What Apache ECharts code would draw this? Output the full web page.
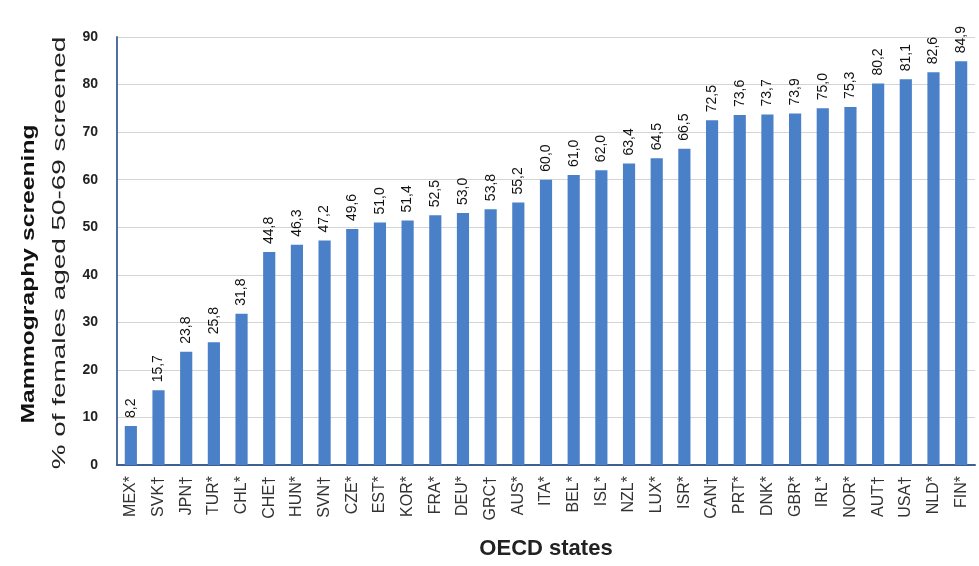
<!DOCTYPE html>
<html>
<head>
<meta charset="utf-8">
<script src="https://cdn.jsdelivr.net/npm/echarts@6/dist/echarts.min.js"></script>
<style>
  html, body { margin: 0; padding: 0; background: #fff; }
  #chart { width: 979px; height: 566px; }
</style>
</head>
<body>
<div id="chart"></div>
<script>
// countries (ordered by screening rate)
var countries = ['MEX*', 'SVK†', 'JPN†', 'TUR*', 'CHL*', 'CHE†', 'HUN*', 'SVN†', 'CZE*', 'EST*',
  'KOR*', 'FRA*', 'DEU*', 'GRC†', 'AUS*', 'ITA*', 'BEL*', 'ISL*', 'NZL*', 'LUX*',
  'ISR*', 'CAN†', 'PRT*', 'DNK*', 'GBR*', 'IRL*', 'NOR*', 'AUT†', 'USA†', 'NLD*', 'FIN*'];
// % of females aged 50-69 screened
var screened = [8.2, 15.7, 23.8, 25.8, 31.8, 44.8, 46.3, 47.2, 49.6, 51.0,
  51.4, 52.5, 53.0, 53.8, 55.2, 60.0, 61.0, 62.0, 63.4, 64.5,
  66.5, 72.5, 73.6, 73.7, 73.9, 75.0, 75.3, 80.2, 81.1, 82.6, 84.9];
var yTicks = [0, 10, 20, 30, 40, 50, 60, 70, 80, 90];
var yTitle = ['Mammography screening', '% of females aged 50-69 screened'];

var chart = echarts.init(document.getElementById('chart'));

var option = {
  animation: false,
  grid: { left: 117, right: 4, top: 37, bottom: 101 },
  // y title drawn as rotated text, stretched along its line like the original
  graphic: [
    {
      type: 'text', x: 29, y: 274, rotation: Math.PI / 2, scaleX: 1.3,
      style: { text: yTitle[0], fontFamily: 'Liberation Sans', fontWeight: 'bold', fontSize: 19,
        fill: '#111', align: 'center', verticalAlign: 'middle' }
    },
    {
      type: 'text', x: 60, y: 253, rotation: Math.PI / 2, scaleX: 1.55,
      style: { text: yTitle[1], fontFamily: 'Liberation Sans', fontSize: 18,
        fill: '#222', align: 'center', verticalAlign: 'middle' }
    }
  ],
  xAxis: {
    type: 'category',
    data: countries,
    name: 'OECD states',
    nameLocation: 'middle',
    nameGap: 73,
    nameTextStyle: { fontFamily: 'Liberation Sans', fontWeight: 'bold', fontSize: 22, color: '#222',
      verticalAlign: 'top' },
    axisLine: { lineStyle: { color: '#3f5f90', width: 2 } },
    axisTick: { show: false },
    axisLabel: {
      rotate: 90,
      interval: 0,
      margin: 11,
      fontFamily: 'Liberation Sans',
      fontSize: 16,
      color: '#333'
    }
  },
  yAxis: {
    type: 'value',
    min: yTicks[0],
    max: yTicks[yTicks.length - 1],
    interval: 10,
    axisLine: { show: true, lineStyle: { color: '#4f6f9f', width: 2 } },
    axisTick: { show: false },
    axisLabel: {
      margin: 19,
      fontFamily: 'Liberation Sans',
      fontWeight: 'bold',
      fontSize: 14,
      color: '#222'
    },
    splitLine: { lineStyle: { color: '#d4d4d4', width: 1 } }
  },
  series: [{
    type: 'bar',
    data: screened,
    barWidth: '44%',
    itemStyle: { color: '#4a80c8' },
    label: {
      show: true,
      position: 'top',
      rotate: 90,
      align: 'left',
      verticalAlign: 'middle',
      distance: 8,
      fontFamily: 'Liberation Sans',
      fontSize: 14,
      color: '#111',
      formatter: function (p) { return p.value.toFixed(1).replace('.', ','); }
    }
  }]
};

chart.setOption(option);
</script>
</body>
</html>
